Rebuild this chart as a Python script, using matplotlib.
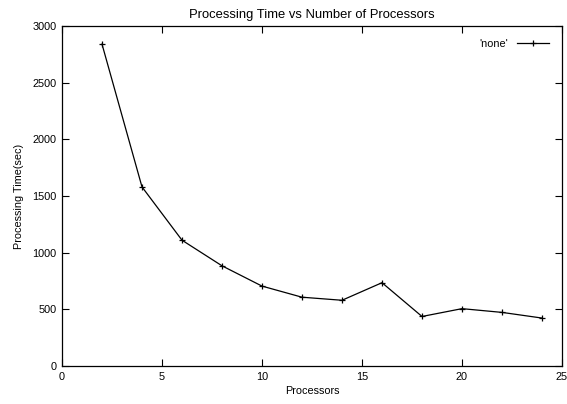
import matplotlib
matplotlib.use("Agg")
import matplotlib.pyplot as plt

processors = [2, 4, 6, 8, 10, 12, 14, 16, 18, 20, 22, 24]
times = [2840, 1580, 1110, 884, 705, 607, 580, 735, 437, 506, 473, 423]

plt.rcParams['font.family'] = ['Liberation Sans', 'DejaVu Sans']
plt.rcParams['font.size'] = 7.8

fig = plt.figure(figsize=(5.67, 4.04), dpi=100)
ax = fig.add_axes([62/567, 38/404, 500/567, 340/404])

ax.plot(processors, times, color='black', linewidth=0.9, marker='+',
        markersize=5, markeredgewidth=0.9, label="'none'")

ax.set_xlim(0, 25)
ax.set_ylim(0, 3000)
ax.set_xticks([0, 5, 10, 15, 20, 25])
ax.set_yticks([0, 500, 1000, 1500, 2000, 2500, 3000])
ax.tick_params(direction='in', top=True, right=True, length=5, width=0.8, pad=4)
for s in ax.spines.values():
    s.set_linewidth(0.9)

ax.set_xlabel('Processors', labelpad=3)
ax.set_ylabel('Processing Time(sec)', labelpad=6)
ax.set_title('Processing Time vs Number of Processors', pad=6)
ax.legend(loc='upper right', frameon=False, markerfirst=False,
          handlelength=3.0, borderaxespad=0.6, handletextpad=0.8,
          borderpad=0.6)

fig.savefig('out.png', dpi=100)
